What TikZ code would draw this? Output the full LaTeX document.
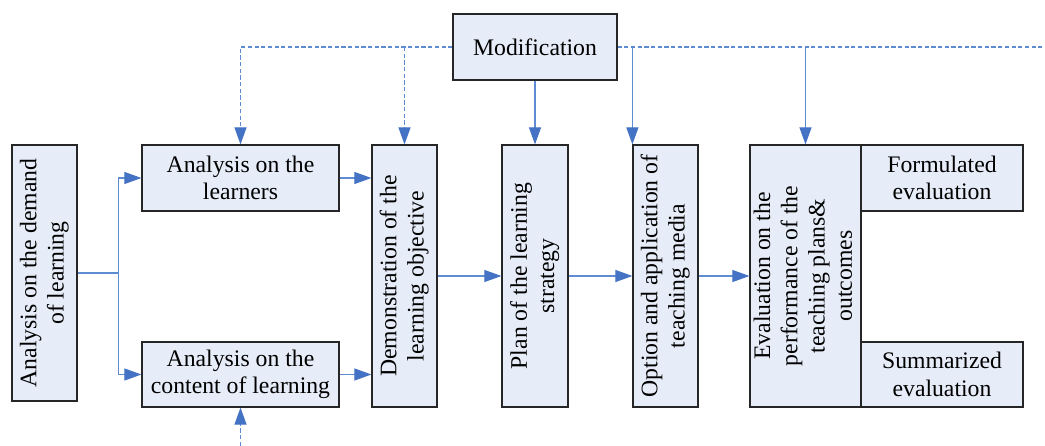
\documentclass[tikz,border=0pt]{standalone}
\usepackage{fontspec}
\setmainfont{Liberation Serif}
\usetikzlibrary{arrows.meta}

\definecolor{boxfill}{HTML}{E7EDF8}
\definecolor{linkblue}{HTML}{5F8BD2}
\definecolor{tipblue}{HTML}{4472C4}

\newcommand{\vtext}[1]{\rotatebox{90}{\begin{tabular}{@{}c@{}}#1\end{tabular}}}

\tikzset{
  box/.style={draw=black!85, line width=0.7pt, fill=boxfill, inner sep=0pt, align=center,
    font=\fontsize{13.5}{15.5}\selectfont},
  link/.style={draw=linkblue, line width=0.6pt, -{Triangle[length=0.34cm,width=0.24cm,color=tipblue]}},
  dlink/.style={link, dash pattern=on 2.4pt off 1.4pt},
  dline/.style={draw=linkblue, line width=0.6pt, dash pattern=on 2.4pt off 1.4pt}
}

\begin{document}
\begin{tikzpicture}[x=0.02cm,y=-0.02cm]
			\useasboundingbox (0,0) rectangle (1045,446);
			
			% boxes
			\node[box, minimum width=3.28cm, minimum height=1.32cm] (modify) at (535,47) {Modification};
			\node[box, minimum width=1.3cm, minimum height=5.12cm] (demand) at (44.5,273) {\vtext{Analysis on the demand\\of learning}};
			\node[box, minimum width=3.94cm, minimum height=1.32cm] (learners) at (240.5,178) {Analysis on the\\learners};
			\node[box, minimum width=3.94cm, minimum height=1.3cm] (content) at (240.5,374.5) {Analysis on the\\content of learning};
			\node[box, minimum width=1.3cm, minimum height=5.24cm] (objective) at (404.5,276) {\vtext{Demonstration of the\\learning objective}};
			\node[box, minimum width=1.32cm, minimum height=5.24cm] (strategy) at (535,276) {\vtext{Plan of the learning\\strategy}};
			\node[box, minimum width=1.3cm, minimum height=5.24cm] (media) at (665.5,276) {\vtext{Option and application of\\teaching media}};
			\node[box, minimum width=2.22cm, minimum height=5.24cm] (evaluation) at (805.5,276) {\vtext{Evaluation on the\\performance of the\\teaching plans\&\\outcomes}};
			\node[box, minimum width=3.24cm, minimum height=1.32cm] (formulated) at (942,178) {Formulated\\evaluation};
			\node[box, minimum width=3.24cm, minimum height=1.3cm] (summarized) at (942,374.5) {Summarized\\evaluation};
			
			% main flow
			\draw[draw=linkblue, line width=0.6pt] (demand.east) -- ++(41,0) coordinate (split);
			\draw[link] (split) |- (learners.west);
			\draw[link] (split) |- (content.west);
			\draw[link] (learners.east) -- (learners.east -| objective.west);
			\draw[link] (content.east) -- (content.east -| objective.west);
			\draw[link] (objective) -- (strategy);
			\draw[link] (strategy) -- (media);
			\draw[link] (media) -- (evaluation);
			
			% feedback from modification
			\coordinate (loopend) at (1045,47);
			\coordinate (loopin) at (240.5,446);
			\draw[link] (modify) -- (strategy);
			\draw[dlink] (modify.west) -| (learners.north);
			\draw[dlink] (modify.west -| objective.north) -- (objective.north);
			\draw[dline] (modify.east) -- (loopend);
			\draw[link] (modify.east -| media.north west) -- (media.north west);
			\draw[link] (modify.east -| evaluation.north) -- (evaluation.north);
			\draw[dlink] (loopin) -- (content.south);
			
		\end{tikzpicture}
\end{document}
